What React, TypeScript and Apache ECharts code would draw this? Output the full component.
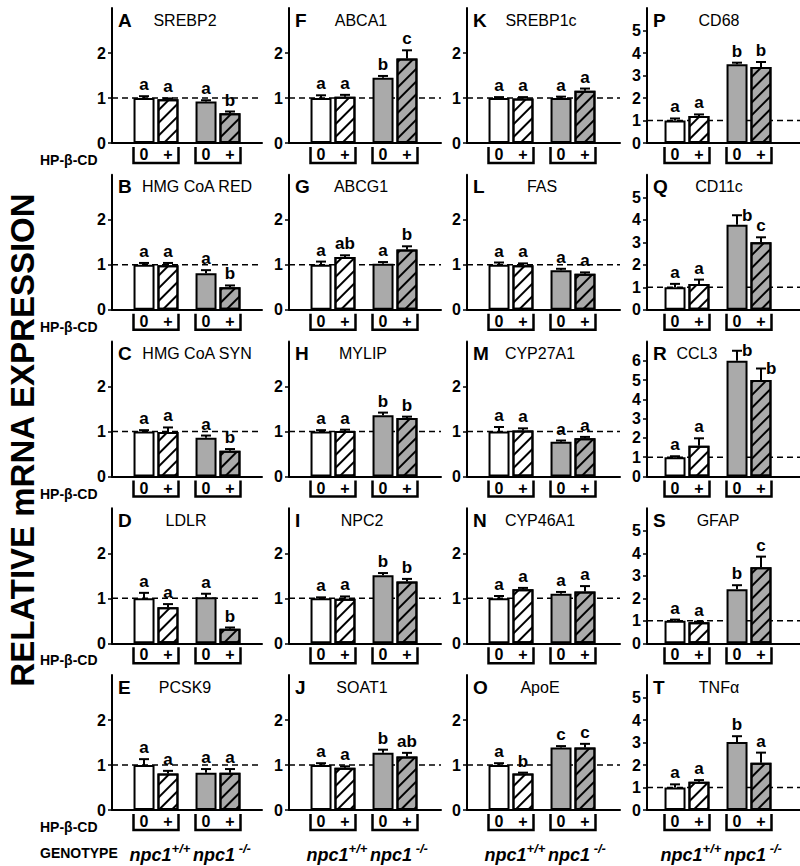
import React, { useEffect, useRef } from 'react';
import * as echarts from 'echarts';

const FONT = '"Liberation Sans", Arial, Helvetica, sans-serif';

// Panels are ordered column by column (A-E, F-J, K-O, P-T)
const panelLetters = ['A', 'B', 'C', 'D', 'E', 'F', 'G', 'H', 'I', 'J', 'K', 'L', 'M', 'N', 'O', 'P', 'Q', 'R', 'S', 'T'];
const geneNames = ['SREBP2', 'HMG CoA RED', 'HMG CoA SYN', 'LDLR', 'PCSK9', 'ABCA1', 'ABCG1', 'MYLIP', 'NPC2', 'SOAT1', 'SREBP1c', 'FAS', 'CYP27A1', 'CYP46A1', 'ApoE', 'CD68', 'CD11c', 'CCL3', 'GFAP', 'TNFα'];

const wtVehicleMean = [1.0, 1.0, 1.0, 1.0, 1.0, 1.0, 1.0, 1.0, 1.0, 1.0, 1.0, 1.0, 1.0, 1.0, 1.0, 1.0, 1.0, 1.0, 1.0, 1.0];
const wtVehicleSem = [0.04, 0.04, 0.03, 0.12, 0.13, 0.06, 0.07, 0.03, 0.02, 0.04, 0.02, 0.05, 0.10, 0.05, 0.04, 0.09, 0.15, 0.05, 0.05, 0.14];
const wtCdMean = [0.97, 0.99, 0.99, 0.80, 0.81, 1.03, 1.17, 1.01, 0.99, 0.94, 0.99, 0.99, 1.02, 1.20, 0.81, 1.20, 1.14, 1.60, 0.93, 1.26];
const wtCdSem = [0.02, 0.05, 0.10, 0.07, 0.06, 0.04, 0.04, 0.03, 0.05, 0.03, 0.03, 0.04, 0.05, 0.03, 0.02, 0.07, 0.20, 0.38, 0.03, 0.07];
const koVehicleMean = [0.92, 0.81, 0.86, 1.02, 0.83, 1.45, 1.02, 1.36, 1.51, 1.27, 1.00, 0.88, 0.77, 1.10, 1.39, 3.50, 3.78, 6.00, 2.40, 3.02];
const koVehicleSem = [0.03, 0.07, 0.05, 0.08, 0.08, 0.04, 0.04, 0.06, 0.05, 0.07, 0.03, 0.03, 0.03, 0.04, 0.03, 0.07, 0.42, 0.52, 0.18, 0.26];
const koCdMean = [0.66, 0.50, 0.57, 0.32, 0.83, 1.88, 1.34, 1.30, 1.37, 1.19, 1.16, 0.80, 0.85, 1.15, 1.39, 3.38, 3.00, 5.00, 3.38, 2.10];
const koCdSem = [0.04, 0.04, 0.04, 0.03, 0.08, 0.18, 0.07, 0.03, 0.06, 0.08, 0.05, 0.03, 0.03, 0.12, 0.08, 0.22, 0.22, 0.60, 0.47, 0.45];

const sigLetters = [
  ['a', 'a', 'a', 'b'], ['a', 'a', 'a', 'b'], ['a', 'a', 'a', 'b'], ['a', 'a', 'a', 'b'], ['a', 'a', 'a', 'a'],
  ['a', 'a', 'b', 'c'], ['a', 'ab', 'a', 'b'], ['a', 'a', 'b', 'b'], ['a', 'a', 'b', 'b'], ['a', 'a', 'b', 'ab'],
  ['a', 'a', 'a', 'a'], ['a', 'a', 'a', 'a'], ['a', 'a', 'a', 'a'], ['a', 'a', 'a', 'a'], ['a', 'b', 'c', 'c'],
  ['a', 'a', 'b', 'b'], ['a', 'a', 'b', 'c'], ['a', 'a', 'b', 'b'], ['a', 'a', 'b', 'c'], ['a', 'a', 'b', 'a'],
];
// letters drawn beside the cap instead of above it: "panel-bar"
const sideLetterKeys = ['Q-2', 'R-2', 'R-3'];

const yMax = [3, 3, 3, 3, 3, 3, 3, 3, 3, 3, 3, 3, 3, 3, 3, 6, 6, 7, 6, 6];
const yTicksSmall = [0, 1, 2];
const yTicksFive = [0, 1, 2, 3, 4, 5];
const yTicksSix = [0, 1, 2, 3, 4, 5, 6];
const treatmentLabels = ['0', '+'];
const genotypeLabels = [['npc1', '+/+'], ['npc1', ' -/-']];
const referenceLevel = 1;

// layout
const colX = [112, 289, 467, 647];
const rowBase = [143, 309.75, 476.5, 643.25, 810];
const axisLen = [150, 152, 153, 153];
const plotH = 135;
const pairPx = 62;
const pairOffset = [44, 44, 44, 40];
const titleCenter = [73, 85, 85, 74, 73, 72, 72, 74, 73, 73, 74, 75, 73, 73, 73, 72, 72, 50, 71, 72];

const barMeans = [wtVehicleMean, wtCdMean, koVehicleMean, koCdMean];
const barSems = [wtVehicleSem, wtCdSem, koVehicleSem, koCdSem];

function buildOption() {
  const grids: any[] = [];
  const xAxes: any[] = [];
  const yAxes: any[] = [];
  const series: any[] = [];
  const graphics: any[] = [];

  for (let p = 0; p < 20; p++) {
    const col = Math.floor(p / 5);
    const row = p % 5;
    const left = colX[col];
    const base = rowBase[row];
    const width = col === 3 ? 800 - left : axisLen[col];
    grids.push({ left, top: base - plotH, width, height: plotH, containLabel: false });
    const xMin = -pairOffset[col] / pairPx;
    xAxes.push({
      type: 'value', gridIndex: p, min: xMin, max: xMin + width / pairPx,
      axisLine: { show: true, onZero: false, lineStyle: { color: '#000', width: 2 } },
      axisTick: { show: false }, axisLabel: { show: false }, splitLine: { show: false },
    });
    const ticks = col < 3 ? yTicksSmall : (yMax[p] === 7 ? yTicksSix : yTicksFive);
    yAxes.push({
      type: 'value', gridIndex: p, min: 0, max: yMax[p], interval: 1,
      axisLine: { show: true, onZero: false, lineStyle: { color: '#000', width: 2 } },
      axisTick: { show: true, length: 4, lineStyle: { color: '#000', width: 1.5 }, customValues: ticks },
      axisLabel: { show: true, customValues: ticks, margin: 6, color: '#000', fontSize: 16, fontWeight: 'bold', fontFamily: FONT },
      splitLine: { show: false },
    });

    // dashed reference line (under bars)
    series.push({
      type: 'custom', xAxisIndex: p, yAxisIndex: p, z: 1, silent: true, clip: false,
      data: [[0, referenceLevel]], encode: { x: 0, y: 1 },
      renderItem: (params: any, api: any) => {
        const cs = params.coordSys;
        const y = api.coord([0, api.value(1)])[1];
        return {
          type: 'line', shape: { x1: cs.x, y1: y, x2: cs.x + cs.width, y2: y },
          style: { stroke: '#000', lineWidth: 1.6, lineDash: [6, 4] },
        };
      },
    });

    // bars: vehicle (0) and HP-β-CD (+)
    series.push({
      type: 'bar', name: '0', xAxisIndex: p, yAxisIndex: p, z: 2, barWidth: 21, barGap: '14%',
      itemStyle: { borderColor: '#000', borderWidth: 2 },
      data: [
        { value: [0, wtVehicleMean[p]], itemStyle: { color: '#ffffff' } },
        { value: [1, koVehicleMean[p]], itemStyle: { color: '#aaaaaa' } },
      ],
    });
    series.push({
      type: 'bar', name: '+', xAxisIndex: p, yAxisIndex: p, z: 2, barWidth: 21, barGap: '14%',
      itemStyle: {
        borderColor: '#000', borderWidth: 2,
        decal: { symbol: 'rect', symbolSize: 1, color: '#000', dashArrayX: [1, 0], dashArrayY: [1.8, 6.4], rotation: -Math.PI / 4 },
      },
      data: [
        { value: [0, wtCdMean[p]], itemStyle: { color: '#ffffff' } },
        { value: [1, koCdMean[p]], itemStyle: { color: '#aaaaaa' } },
      ],
    });

    // error bars, significance letters, treatment brackets
    const overlayData = [0, 1, 2, 3].map((k) => [Math.floor(k / 2), barMeans[k][p], barSems[k][p]]);
    series.push({
      type: 'custom', xAxisIndex: p, yAxisIndex: p, z: 3, silent: true, clip: false,
      data: overlayData, encode: { x: 0, y: 1 },
      renderItem: (params: any, api: any) => {
        const k = params.dataIndex;
        const pair = api.value(0);
        const tr = k % 2;
        const mean = api.value(1);
        const sem = api.value(2);
        const b = api.coord([pair, 0]);
        const cx = b[0] + (tr === 0 ? -12 : 12);
        const yTop = api.coord([pair, mean])[1];
        const yErr = api.coord([pair, mean + sem])[1];
        const children: any[] = [
          { type: 'line', shape: { x1: cx, y1: yTop, x2: cx, y2: yErr }, style: { stroke: '#000', lineWidth: 2 } },
          { type: 'line', shape: { x1: cx - 5, y1: yErr, x2: cx + 5, y2: yErr }, style: { stroke: '#000', lineWidth: 2 } },
        ];
        const side = sideLetterKeys.indexOf(panelLetters[p] + '-' + k) >= 0;
        children.push({
          type: 'text', x: side ? cx + 5 : cx, y: side ? yErr : yErr - 3,
          style: {
            text: sigLetters[p][k], fill: '#000', fontSize: 17, fontWeight: 'bold', fontFamily: FONT,
            align: side ? 'left' : 'center', verticalAlign: side ? 'middle' : 'bottom',
            textAlign: side ? 'left' : 'center', textVerticalAlign: side ? 'middle' : 'bottom',
          },
        });
        if (tr === 0) {
          const by = b[1];
          const L = cx - 10.5;
          const R = cx + 24 + 10.5;
          children.push({
            type: 'polyline', shape: { points: [[L, by + 4], [L, by + 20], [R, by + 20], [R, by + 4]] },
            style: { stroke: '#000', lineWidth: 2.5, fill: null },
          });
          treatmentLabels.forEach((t, j) => {
            children.push({
              type: 'text', x: cx + 24 * j, y: by + 11.5,
              style: {
                text: t, fill: '#000', fontSize: 16, fontWeight: 'bold', fontFamily: FONT,
                align: 'center', verticalAlign: 'middle', textAlign: 'center', textVerticalAlign: 'middle',
              },
            });
          });
        }
        return { type: 'group', children };
      },
    });

    // panel letter and gene name
    graphics.push({
      type: 'text', x: left + 6, y: base - 123,
      style: { text: panelLetters[p], fill: '#000', fontSize: 19, fontWeight: 'bold', fontFamily: FONT, align: 'left', verticalAlign: 'middle', textAlign: 'left', textVerticalAlign: 'middle' },
    });
    graphics.push({
      type: 'text', x: left + titleCenter[p], y: base - 123,
      style: { text: geneNames[p], fill: '#000', fontSize: 16, fontFamily: FONT, align: 'center', verticalAlign: 'middle', textAlign: 'center', textVerticalAlign: 'middle' },
    });
  }

  // HP-β-CD labels
  rowBase.forEach((b) => {
    graphics.push({
      type: 'text', x: 40, y: b + 17,
      style: { text: 'HP-β-CD', fill: '#000', fontSize: 14, fontWeight: 'bold', fontFamily: FONT, align: 'left', verticalAlign: 'middle', textAlign: 'left', textVerticalAlign: 'middle' },
    });
  });
  graphics.push({
    type: 'text', x: 40, y: 853,
    style: { text: 'GENOTYPE', fill: '#000', fontSize: 14, fontWeight: 'bold', fontFamily: FONT, align: 'left', verticalAlign: 'middle', textAlign: 'left', textVerticalAlign: 'middle' },
  });
  colX.forEach((cxl, col) => {
    genotypeLabels.forEach((g, j) => {
      graphics.push({
        type: 'text', x: cxl + pairOffset[col] + pairPx * j + 4, y: 853,
        style: {
          text: '{i|' + g[0] + '}{s|' + g[1] + '}',
          align: 'center', verticalAlign: 'middle', textAlign: 'center', textVerticalAlign: 'middle',
          rich: {
            i: { fontSize: 18, fontWeight: 'bold', fontStyle: 'italic', fontFamily: FONT, fill: '#000', lineHeight: 22, verticalAlign: 'bottom' },
            s: { fontSize: 13, fontWeight: 'bold', fontStyle: 'italic', fontFamily: FONT, fill: '#000', lineHeight: 13, verticalAlign: 'top' },
          },
        },
      });
    });
  });
  // y-axis title
  graphics.push({
    type: 'text', x: 22, y: 440, rotation: Math.PI / 2,
    style: { text: 'RELATIVE mRNA EXPRESSION', fill: '#000', fontSize: 33, fontWeight: 'bold', fontFamily: FONT, align: 'center', verticalAlign: 'middle', textAlign: 'center', textVerticalAlign: 'middle' },
  });

  return {
    animation: false,
    backgroundColor: '#ffffff',
    grid: grids,
    xAxis: xAxes,
    yAxis: yAxes,
    series,
    graphic: { elements: graphics },
  };
}

export default function App() {
  const ref = useRef<HTMLDivElement>(null);
  useEffect(() => {
    document.body.style.margin = '0';
    if (!ref.current) return;
    const chart = echarts.init(ref.current, undefined, { renderer: 'svg' });
    chart.setOption(buildOption() as any);
    return () => chart.dispose();
  }, []);
  return <div ref={ref} style={{ width: 800, height: 866 }} />;
}
